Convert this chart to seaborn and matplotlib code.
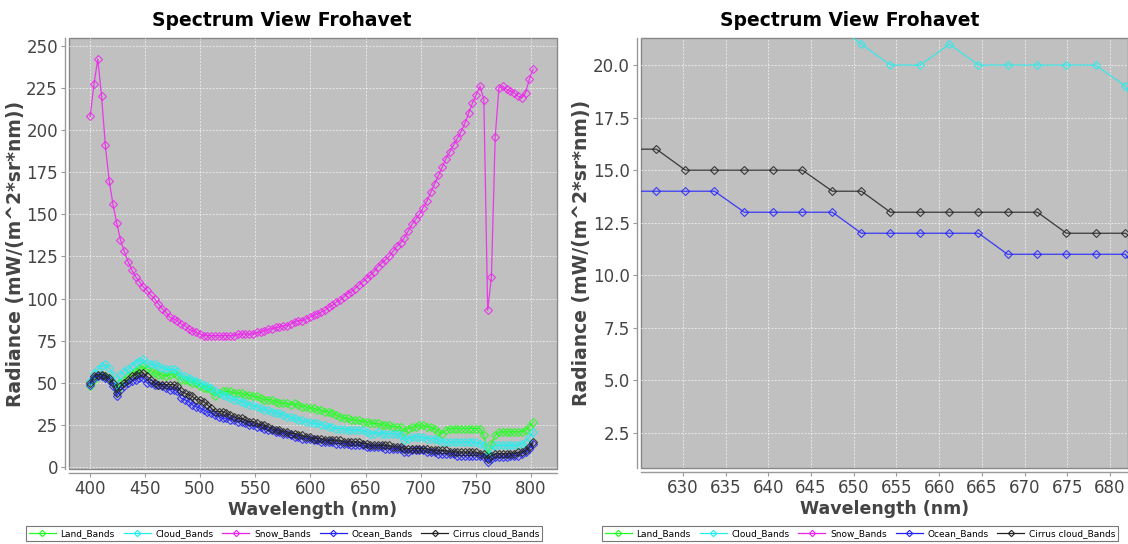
import numpy as np
import pandas as pd
import matplotlib
matplotlib.use("Agg")
import matplotlib.pyplot as plt
from matplotlib.lines import Line2D
import seaborn as sns

# ---------------- data ----------------
wavelength = [
    400.5, 403.9, 407.4, 410.8, 414.2, 417.7, 421.1, 424.5, 427.9, 431.4,
    434.8, 438.2, 441.7, 445.1, 448.5, 451.9, 455.4, 458.8, 462.2, 465.7,
    469.1, 472.5, 476.0, 479.4, 482.8, 486.3, 489.7, 493.1, 496.5, 500.0,
    503.4, 506.8, 510.3, 513.7, 517.1, 520.6, 524.0, 527.4, 530.8, 534.3,
    537.7, 541.1, 544.6, 548.0, 551.4, 554.9, 558.3, 561.7, 565.1, 568.6,
    572.0, 575.4, 578.9, 582.3, 585.7, 589.2, 592.6, 596.0, 599.4, 602.9,
    606.3, 609.7, 613.2, 616.6, 620.0, 623.5, 626.9, 630.3, 633.7, 637.2,
    640.6, 644.0, 647.5, 650.9, 654.3, 657.8, 661.2, 664.6, 668.0, 671.5,
    674.9, 678.3, 681.8, 685.2, 688.6, 692.1, 695.5, 698.9, 702.3, 705.8,
    709.2, 712.6, 716.1, 719.5, 722.9, 726.4, 729.8, 733.2, 736.6, 740.1,
    743.5, 746.9, 750.4, 753.8, 757.2, 760.7, 764.1, 767.5, 770.9, 774.4,
    777.8, 781.2, 784.7, 788.1, 791.5, 795.0, 798.4, 801.8,
]

land_bands = [
    48, 52, 54, 55, 54, 53, 50, 46, 50, 52,
    54, 56, 57, 59, 60, 58, 57, 56, 55, 55,
    54, 55, 56, 55, 52, 52, 51, 50, 50, 48,
    47, 47, 46, 42, 44, 45, 45, 45, 44, 44,
    44, 43, 43, 42, 42, 41, 40, 40, 40, 39,
    38, 38, 38, 37, 38, 37, 36, 36, 35, 35,
    34, 34, 33, 33, 32, 31, 30, 29, 29, 28,
    28, 28, 27, 27, 26, 26, 26, 25, 25, 25,
    24, 24, 24, 21, 23, 24, 24, 25, 25, 24,
    24, 23, 21, 20, 22, 23, 23, 23, 23, 23,
    23, 23, 23, 23, 19, 8, 14, 19, 21, 21,
    21, 21, 21, 21, 21, 22, 24, 27,
]

cloud_bands = [
    51, 56, 58, 60, 61, 59, 55, 49, 55, 57,
    58, 60, 62, 63, 64, 62, 61, 61, 60, 59,
    58, 58, 58, 57, 54, 54, 53, 52, 51, 50,
    49, 48, 47, 45, 44, 43, 42, 41, 40, 40,
    39, 38, 37, 37, 36, 35, 34, 34, 33, 32,
    32, 31, 30, 30, 29, 28, 28, 27, 27, 26,
    26, 25, 25, 24, 24, 23, 23, 23, 22, 22,
    22, 22, 22, 21, 20, 20, 21, 20, 20, 20,
    20, 20, 19, 16, 17, 18, 18, 18, 18, 17,
    17, 17, 16, 15, 15, 15, 15, 15, 15, 15,
    15, 15, 15, 14, 13, 6, 10, 13, 13, 13,
    13, 13, 13, 13, 14, 15, 18, 21,
]

snow_bands = [
    208, 227, 242, 220, 191, 170, 156, 145, 135, 128,
    122, 117, 113, 110, 107, 105, 102, 100, 97, 94,
    92, 89, 88, 87, 85, 84, 82, 81, 80, 79,
    78, 78, 78, 78, 78, 78, 78, 78, 78, 79,
    79, 79, 79, 79, 80, 80, 81, 82, 82, 83,
    83, 84, 84, 85, 86, 87, 87, 88, 89, 90,
    91, 92, 93, 95, 96, 98, 99, 101, 103, 104,
    106, 108, 110, 112, 114, 116, 119, 121, 123, 125,
    128, 131, 133, 136, 140, 144, 147, 150, 154, 158,
    163, 168, 173, 178, 183, 187, 191, 195, 199, 204,
    210, 216, 221, 226, 218, 93, 113, 196, 225, 226,
    224, 223, 222, 220, 219, 222, 230, 236,
]

ocean_bands = [
    49, 53, 54, 54, 53, 52, 48, 42, 46, 48,
    50, 51, 52, 53, 53, 50, 50, 49, 49, 48,
    47, 46, 46, 45, 41, 40, 39, 37, 36, 35,
    34, 33, 32, 31, 30, 29, 29, 28, 28, 27,
    27, 26, 25, 25, 24, 24, 23, 22, 22, 21,
    21, 20, 20, 19, 18, 18, 17, 17, 17, 16,
    16, 15, 15, 15, 15, 14, 14, 14, 14, 13,
    13, 13, 13, 12, 12, 12, 12, 12, 11, 11,
    11, 11, 11, 9, 9, 10, 10, 10, 10, 9,
    9, 9, 8, 8, 8, 8, 8, 7, 7, 7,
    7, 7, 7, 7, 6, 3, 5, 6, 6, 6,
    6, 7, 7, 7, 8, 9, 11, 14,
]

cirrus_bands = [
    50, 54, 55, 55, 54, 53, 50, 44, 48, 50,
    52, 54, 55, 56, 56, 54, 52, 50, 49, 49,
    49, 49, 49, 48, 45, 44, 43, 42, 40, 40,
    39, 37, 35, 33, 33, 33, 32, 31, 30, 29,
    29, 28, 27, 27, 26, 25, 25, 24, 23, 22,
    22, 21, 21, 20, 20, 19, 19, 18, 18, 17,
    17, 17, 16, 16, 16, 16, 16, 15, 15, 15,
    15, 15, 14, 14, 13, 13, 13, 13, 13, 13,
    12, 12, 12, 11, 11, 11, 11, 11, 11, 11,
    10, 10, 10, 10, 10, 9, 9, 9, 9, 9,
    9, 9, 9, 8, 8, 5, 7, 8, 8, 8,
    8, 8, 8, 9, 9, 10, 12, 15,
]

series_names = ["Land_Bands", "Cloud_Bands", "Snow_Bands", "Ocean_Bands", "Cirrus cloud_Bands"]
series_values = [land_bands, cloud_bands, snow_bands, ocean_bands, cirrus_bands]
series_colors = ["#22ff22", "#22eeee", "#ee22ee", "#2222ff", "#222222"]

title_text = "Spectrum View Frohavet"
x_label = "Wavelength (nm)"
y_label = "Radiance (mW/(m^2*sr*nm))"

left_xticks = [400, 450, 500, 550, 600, 650, 700, 750, 800]
left_yticks = [0, 25, 50, 75, 100, 125, 150, 175, 200, 225, 250]
right_xticks = [630, 635, 640, 645, 650, 655, 660, 665, 670, 675, 680]
right_yticks = [2.5, 5.0, 7.5, 10.0, 12.5, 15.0, 17.5, 20.0]

# ---------------- plotting ----------------
W, H = 1128, 544
fig = plt.figure(figsize=(W / 100, H / 100), dpi=100)
fig.patch.set_facecolor("white")

plt.rcParams["font.family"] = ["DejaVu Sans"]

def px_rect(x0, y0, x1, y1):
    return [x0 / W, 1 - y1 / H, (x1 - x0) / W, (y1 - y0) / H]

ax_l = fig.add_axes(px_rect(69, 38, 557, 469))
ax_r = fig.add_axes(px_rect(641, 38, 1128, 468))

df = pd.DataFrame({"wavelength": wavelength})
for n, v in zip(series_names, series_values):
    df[n] = v

for ax in (ax_l, ax_r):
    ax.set_facecolor("#c0c0c0")
    for n, c in zip(series_names, series_colors):
        sns.lineplot(data=df, x="wavelength", y=n, ax=ax, color=c,
                     linewidth=0.9, alpha=0.85, marker="D", markersize=3.8,
                     markerfacecolor="none", markeredgecolor=c,
                     markeredgewidth=0.8, errorbar=None, legend=False)
    ax.grid(True, color="white", linestyle=(0, (2, 2)), linewidth=0.6, alpha=0.8)
    ax.set_axisbelow(True)
    for s in ("top", "right"):
        ax.spines[s].set_visible(False)
    for s in ("left", "bottom"):
        ax.spines[s].set_position(("outward", 3))
        ax.spines[s].set_color("#999999")
        ax.spines[s].set_linewidth(1.0)
    ax.patch.set_edgecolor("#888888")
    ax.patch.set_linewidth(1.0)
    ax.tick_params(axis="both", colors="#999999", labelcolor="#444444",
                   labelsize=12, length=3, width=0.8, direction="out", pad=2)
    ax.set_xlabel(x_label, fontsize=12.5, fontweight="bold", color="#444444", labelpad=2)
    ax.set_ylabel(y_label, fontsize=13.5, fontweight="bold", color="#444444", labelpad=1)

ax_l.set_xlim(381.3, 823.5)
ax_l.set_ylim(-1.0, 254.5)
ax_l.set_xticks(left_xticks)
ax_l.set_yticks(left_yticks)
ax_l.set_yticklabels([str(t) for t in left_yticks])

ax_r.set_xlim(625.1, 682.1)
ax_r.set_ylim(0.83, 21.29)
ax_r.set_xticks(right_xticks)
ax_r.set_yticks(right_yticks)
ax_r.set_yticklabels([f"{t:.1f}" for t in right_yticks])

# titles centred over each chart panel
fig.text(282 / W, 1 - 20 / H, title_text, ha="center", va="center",
         fontsize=13.5, fontweight="bold", color="black")
fig.text(850 / W, 1 - 20 / H, title_text, ha="center", va="center",
         fontsize=13.5, fontweight="bold", color="black")

# legends
handles = [Line2D([0], [0], color=c, linewidth=0.9, marker="D", markersize=3.2,
                  markerfacecolor="none", markeredgecolor=c, markeredgewidth=0.8)
           for c in series_colors]
for cx in (284, 860):
    leg = fig.legend(handles, series_names, loc="upper center",
                     bbox_to_anchor=(cx / W, 1 - 526 / H), ncol=5, fontsize=6.5,
                     frameon=True, fancybox=False, edgecolor="#555555",
                     borderpad=0.35, handlelength=3.0, columnspacing=1.0,
                     handletextpad=0.5, borderaxespad=0.0)
    leg.get_frame().set_linewidth(0.8)

fig.savefig("out.png", dpi=100, facecolor="white")
